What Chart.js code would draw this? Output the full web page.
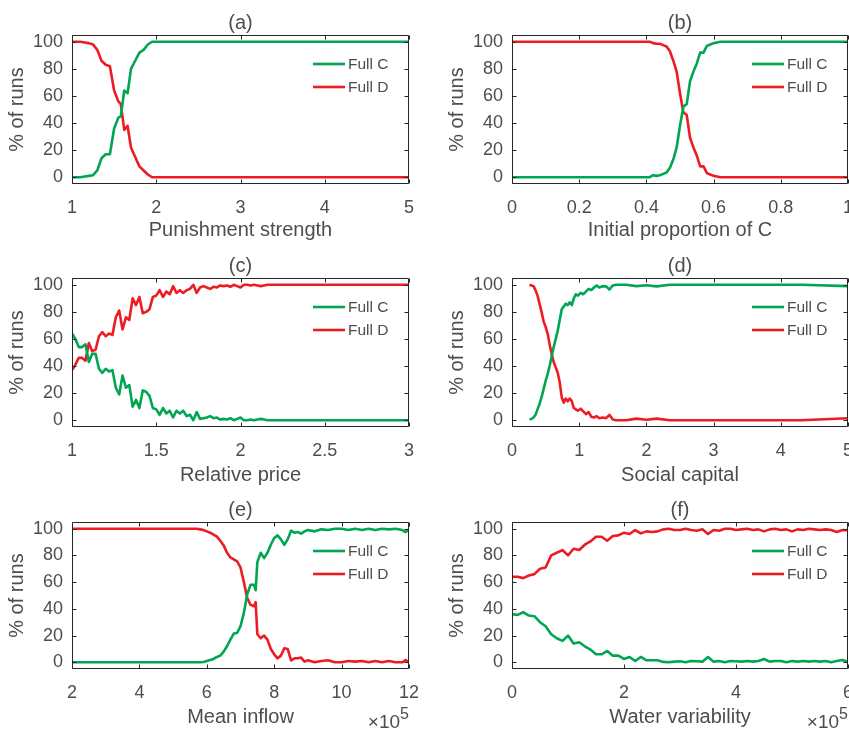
<!DOCTYPE html>
<html>
<head>
<meta charset="utf-8">
<script src="https://cdn.jsdelivr.net/npm/chart.js@4.4.0/dist/chart.umd.min.js"></script>
<style>
  html, body { margin: 0; padding: 0; background: #fff; }
  #fig { position: relative; width: 849px; height: 731px; overflow: hidden; }
  #fig canvas { position: absolute; }
</style>
</head>
<body>
<div id="fig">
  <canvas id="pa" width="425" height="244" style="left:0;top:0"></canvas>
  <canvas id="pb" width="409" height="244" style="left:440px;top:0"></canvas>
  <canvas id="pc" width="425" height="246" style="left:0;top:243px"></canvas>
  <canvas id="pd" width="409" height="246" style="left:440px;top:243px"></canvas>
  <canvas id="pe" width="425" height="244" style="left:0;top:487px"></canvas>
  <canvas id="pf" width="409" height="244" style="left:440px;top:487px"></canvas>
</div>
<script>
const FONT = '"Liberation Sans", Arial, Helvetica, sans-serif';
const TXT = '#4d4d4d';
const GREEN = '#00a651';
const RED = '#ed1c24';

const seriesNames = ['Full C', 'Full D'];
const yTicks = [0, 20, 40, 60, 80, 100];

// (a) punishment strength
const aX = [1.00, 1.05, 1.10, 1.15, 1.20, 1.25, 1.30, 1.35, 1.40, 1.45, 1.50, 1.55, 1.58, 1.62, 1.66, 1.70, 1.75, 1.80, 1.85, 1.90, 1.95, 5];
const aFullC = [0, 0, 0, 0.5, 1, 1.5, 5, 14, 17, 17, 36, 44, 45, 64, 62, 80, 86, 92, 94, 98, 100, 100];
const aFullD = [100, 100, 100, 99.5, 99, 98, 94, 86, 83, 82, 64, 56, 54, 35, 38, 22, 15, 8, 5, 2, 0, 0];
const aTicks = [1, 2, 3, 4, 5];

// (b) initial proportion of C
const bX = [0, 0.40, 0.41, 0.42, 0.43, 0.44, 0.45, 0.46, 0.47, 0.48, 0.49, 0.50, 0.51, 0.52, 0.53, 0.54, 0.55, 0.56, 0.57, 0.58, 0.59, 0.60, 0.61, 0.62, 0.63, 1];
const bFullC = [0, 0, 0, 1.5, 1, 1.5, 2.5, 3.5, 7, 13, 22, 38, 52, 54, 71, 78, 84, 92, 92, 97, 98, 99, 99.5, 100, 100, 100];
const bFullD = [100, 100, 100, 99, 98.5, 98.5, 97.5, 96.5, 93, 86, 78, 62, 48, 46, 29, 22, 16, 8, 8, 3, 2, 1, 0.5, 0, 0, 0];
const bTicks = [0, 0.2, 0.4, 0.6, 0.8, 1];

// (c) relative price
const cX = [1.00, 1.02, 1.04, 1.06, 1.08, 1.10, 1.12, 1.14, 1.16, 1.18,
            1.20, 1.22, 1.24, 1.26, 1.28, 1.30, 1.32, 1.34, 1.36, 1.38,
            1.40, 1.42, 1.44, 1.46, 1.48, 1.50, 1.52, 1.54, 1.56, 1.58,
            1.60, 1.62, 1.64, 1.66, 1.68, 1.70, 1.72, 1.74, 1.76, 1.78,
            1.80, 1.82, 1.84, 1.86, 1.88, 1.90, 1.92, 1.94, 1.96, 1.98,
            2.00, 2.02, 2.04, 2.06, 2.08, 2.10, 2.12, 2.14, 2.16, 2.18, 3.00];
const cFullC = [64, 60, 54, 54, 56, 43, 49, 49, 38, 35,
                38, 36, 37, 24, 19, 33, 24, 26, 10, 15,
                9, 22, 21, 18, 9, 8, 4, 9, 5, 7,
                2, 7, 5, 7, 3, 4, 0, 6, 1, 1.5,
                2, 3, 1.5, 2, 0.5, 1, 0.5, 1.5, 0, 1,
                2, 0, 0, 0.5, 0, 0.5, 1, 0.5, 0, 0, 0];
const cFullD = [37, 41, 46, 46, 44, 57, 51, 52, 62, 65,
                62, 64, 63, 76, 81, 67, 76, 74, 90, 85,
                91, 79, 80, 82, 91, 92, 96, 91, 95, 93,
                99, 94, 96, 94, 96, 97, 100, 94, 98, 99,
                98, 97, 98.5, 98, 99.5, 99, 99.5, 98.5, 100, 99,
                98, 100, 100, 99.5, 100, 99.5, 99, 99.5, 100, 100, 100];
const cTicks = [1, 1.5, 2, 2.5, 3];

// (d) social capital
const dX = [0.26, 0.29, 0.32, 0.35, 0.38, 0.41, 0.44, 0.47, 0.50, 0.53, 0.56, 0.59, 0.62, 0.65, 0.68, 0.71,
            0.74, 0.77, 0.80, 0.83, 0.86, 0.89, 0.92, 0.95, 0.98, 1.02, 1.06, 1.10, 1.14, 1.18, 1.22, 1.26,
            1.30, 1.35, 1.40, 1.45, 1.50, 1.55, 1.70, 1.85, 2.00, 2.15, 2.35, 3.00, 4.00, 4.30, 5.00];
const dFullC = [0.5, 1, 2, 4, 8, 12, 17, 23, 29, 34, 40, 47, 54, 60, 66, 74,
                82, 84, 86, 85, 87, 85, 90, 93, 92, 94, 93, 95, 97, 96, 98, 99.5,
                98, 99, 98.8, 96.5, 99.5, 100, 100, 99, 99.7, 98.8, 100, 100, 100, 100, 99];
const dFullD = [100, 99.5, 99, 96, 92, 86, 80, 73, 69, 64, 56, 49, 43, 39, 35, 28,
                17, 13, 16, 14, 16, 14, 9, 8, 7, 8.5, 6.5, 4.5, 6, 2.5, 2, 3,
                1.5, 2, 1.5, 4, 0.5, 0, 0, 1.2, 0.3, 1.2, 0, 0, 0, 0, 1.5];
const dTicks = [0, 1, 2, 3, 4, 5];

// (e) mean inflow (x 1e5)
const eX = [2, 5.7, 5.8, 5.9, 6.0, 6.1, 6.2, 6.3, 6.4, 6.5, 6.6, 6.7, 6.8, 6.9, 7.0, 7.1, 7.2, 7.3, 7.4, 7.45,
            7.5, 7.6, 7.7, 7.8, 7.9, 8.0, 8.1, 8.2, 8.3, 8.4, 8.5, 8.6, 8.7, 8.8, 8.9, 9.0,
            9.2, 9.4, 9.6, 9.8, 10.0, 10.2, 10.4, 10.6, 10.8, 11.0, 11.2, 11.4, 11.6, 11.8, 11.9, 12.0];
const eFullC = [0, 0, 0, 0.3, 1, 1.7, 2.5, 4, 5, 8, 12, 17, 21.5, 22, 27, 37, 51, 58, 58, 54,
                75, 82, 78, 82, 88, 93, 95, 92, 88, 92, 98.5, 97, 97.5, 96.3, 98, 99,
                98, 99.5, 99, 100, 100, 99, 100, 99, 100, 99, 100, 99.5, 100, 99, 97.5, 99.5];
const eFullD = [100, 100, 99.5, 99, 98, 97, 95.5, 94, 91, 87.5, 82, 78.5, 77, 75.5, 71, 60, 48, 43, 42, 45,
                21, 18, 20, 17, 10, 6, 3, 5, 10.5, 10, 1.5, 3, 3, 3.5, 0.5, 1.5,
                0, 1, 1.5, 0, 0, 1, 0.5, 1, 0, 1, 0, 1, 0, 0, 1.7, 0];
const eTicks = [2, 4, 6, 8, 10, 12];

// (f) water variability (x 1e5)
const fX = [0.0, 0.1, 0.2, 0.3, 0.4, 0.5, 0.6, 0.7, 0.8, 0.9,
            1.0, 1.1, 1.2, 1.3, 1.4, 1.5, 1.6, 1.7, 1.8, 1.9,
            2.0, 2.1, 2.2, 2.3, 2.4, 2.5, 2.6, 2.7, 2.8, 2.9,
            3.0, 3.1, 3.2, 3.3, 3.4, 3.5, 3.6, 3.7, 3.8, 3.9,
            4.0, 4.1, 4.2, 4.3, 4.4, 4.5, 4.6, 4.7, 4.8, 4.9,
            5.0, 5.1, 5.2, 5.3, 5.4, 5.5, 5.6, 5.7, 5.8, 5.9, 6.0];
const fFullC = [36, 35.5, 37.5, 35, 34.5, 30, 27, 21, 18, 16,
                20, 14, 15, 12, 9.5, 6, 6, 8.5, 5, 5,
                2.5, 4, 1, 4, 1.5, 1.5, 1.5, 0.3, 0, 0.5,
                0.8, 0, 1, 0.8, 0.5, 4, 0.5, 1, 0, 1,
                0.8, 0.5, 1, 0.5, 1, 2.5, 0.5, 1, 1, 0,
                1, 0.5, 1, 0.5, 1, 0.5, 1, 0, 1, 1.7, 0.3];
const fFullD = [64, 64, 63, 65, 66, 70, 71, 80, 82, 84,
                80, 85, 84, 88, 90.5, 94, 94, 91, 94.5, 95,
                97, 96, 99, 96.5, 98, 97.5, 98, 99.5, 100, 99,
                99, 100, 99, 98.5, 99.5, 96, 99, 98.5, 100, 100,
                99, 99.5, 100, 99, 99.5, 98, 99.5, 100, 99, 99.5,
                98, 99.5, 99, 100, 99.5, 99, 99.5, 99, 97.5, 99, 98.8];
const fTicks = [0, 2, 4, 6];

// box, inward ticks, legend, panel letter, x10^5
const axesFrame = {
  id: 'axesFrame',
  afterDatasetsDraw(chart, args, opts) {
    const {ctx, chartArea: ca, scales} = chart;
    const l = Math.round(ca.left) + 0.5, r = Math.round(ca.right) - 0.5;
    const t = Math.round(ca.top) + 0.5, b = Math.round(ca.bottom) - 0.5;
    ctx.save();
    ctx.strokeStyle = '#262626';
    ctx.lineWidth = 1;
    ctx.beginPath();
    ctx.rect(l, t, r - l, b - t);
    scales.x.ticks.forEach(tk => {
      const px = Math.round(scales.x.getPixelForValue(tk.value)) + 0.5;
      ctx.moveTo(px, b); ctx.lineTo(px, b - 4);
      ctx.moveTo(px, t); ctx.lineTo(px, t + 4);
    });
    scales.y.ticks.forEach(tk => {
      const py = Math.round(scales.y.getPixelForValue(tk.value)) + 0.5;
      ctx.moveTo(l, py); ctx.lineTo(l + 4, py);
      ctx.moveTo(r, py); ctx.lineTo(r - 4, py);
    });
    ctx.stroke();

    // legend, top right inside the axes
    ctx.font = '15.5px ' + FONT;
    ctx.textAlign = 'left';
    ctx.textBaseline = 'middle';
    chart.data.datasets.forEach((ds, i) => {
      const y = ca.top + 29 + i * 23;
      ctx.strokeStyle = ds.borderColor;
      ctx.lineWidth = 2.6;
      ctx.beginPath();
      ctx.moveTo(ca.right - 96, y);
      ctx.lineTo(ca.right - 64, y);
      ctx.stroke();
      ctx.fillStyle = TXT;
      ctx.fillText(ds.label, ca.right - 61, y + 1);
    });

    // panel letter
    ctx.fillStyle = TXT;
    ctx.font = '20px ' + FONT;
    ctx.textAlign = 'center';
    ctx.textBaseline = 'middle';
    ctx.fillText(opts.letter, (ca.left + ca.right) / 2, ca.top - 12);

    if (opts.exponent) {
      ctx.textAlign = 'right';
      ctx.textBaseline = 'alphabetic';
      ctx.font = '16px ' + FONT;
      const w5 = ctx.measureText('5').width;
      ctx.fillText('5', ca.right, ca.bottom + 50);
      ctx.font = '19px ' + FONT;
      ctx.fillText('\u00d710', ca.right - w5, ca.bottom + 59);
    }
    ctx.restore();
  }
};

function panel(id, letter, xs, fullC, fullD, xTicks, xTitle, xHeight, padRight, exponent) {
  const toPts = vals => xs.map((x, i) => ({x: x, y: vals[i]}));
  return new Chart(document.getElementById(id).getContext('2d'), {
    type: 'line',
    data: {
      datasets: [
        { label: seriesNames[0], data: toPts(fullC), borderColor: GREEN, borderWidth: 2.6, pointRadius: 0, tension: 0, borderJoinStyle: 'round' },
        { label: seriesNames[1], data: toPts(fullD), borderColor: RED, borderWidth: 2.6, pointRadius: 0, tension: 0, borderJoinStyle: 'round' }
      ]
    },
    options: {
      responsive: false,
      animation: false,
      devicePixelRatio: 1,
      events: [],
      layout: { padding: { top: 35, right: padRight, left: 0, bottom: 0 }, autoPadding: false },
      plugins: {
        legend: { display: false },
        tooltip: { enabled: false },
        axesFrame: { letter: letter, exponent: exponent }
      },
      scales: {
        x: {
          type: 'linear',
          min: xTicks[0],
          max: xTicks[xTicks.length - 1],
          afterBuildTicks: s => { s.ticks = xTicks.map(v => ({value: v})); },
          afterFit: s => { s.height = xHeight; s.paddingLeft = 0; s.paddingRight = 0; },
          grid: { display: false, drawTicks: false },
          border: { display: false },
          ticks: { color: TXT, font: { family: FONT, size: 18 }, padding: 13, maxRotation: 0, autoSkip: false,
                   callback: v => String(v) },
          title: { display: true, text: xTitle, color: TXT, font: { family: FONT, size: 20 }, padding: { top: 0, bottom: 2 } }
        },
        y: {
          min: -5,
          max: 105,
          afterBuildTicks: s => { s.ticks = yTicks.map(v => ({value: v})); },
          afterFit: s => { s.width = 72; s.paddingTop = 0; s.paddingBottom = 0; },
          grid: { display: false, drawTicks: false },
          border: { display: false },
          ticks: { color: TXT, font: { family: FONT, size: 18 }, padding: 9, callback: v => String(v) },
          title: { display: true, text: '% of runs', color: TXT, font: { family: FONT, size: 20 }, padding: { top: 5, bottom: 0 } }
        }
      }
    },
    plugins: [axesFrame]
  });
}

panel('pa', '(a)', aX, aFullC, aFullD, aTicks, 'Punishment strength', 60, 16, false);
panel('pb', '(b)', bX, bFullC, bFullD, bTicks, 'Initial proportion of C', 60, 1, false);
panel('pc', '(c)', cX, cFullC, cFullD, cTicks, 'Relative price', 62, 16, false);
panel('pd', '(d)', dX, dFullC, dFullD, dTicks, 'Social capital', 62, 1, false);
panel('pe', '(e)', eX, eFullC, eFullD, eTicks, 'Mean inflow', 62, 16, true);
panel('pf', '(f)', fX, fFullC, fFullD, fTicks, 'Water variability', 62, 1, true);
</script>
</body>
</html>
